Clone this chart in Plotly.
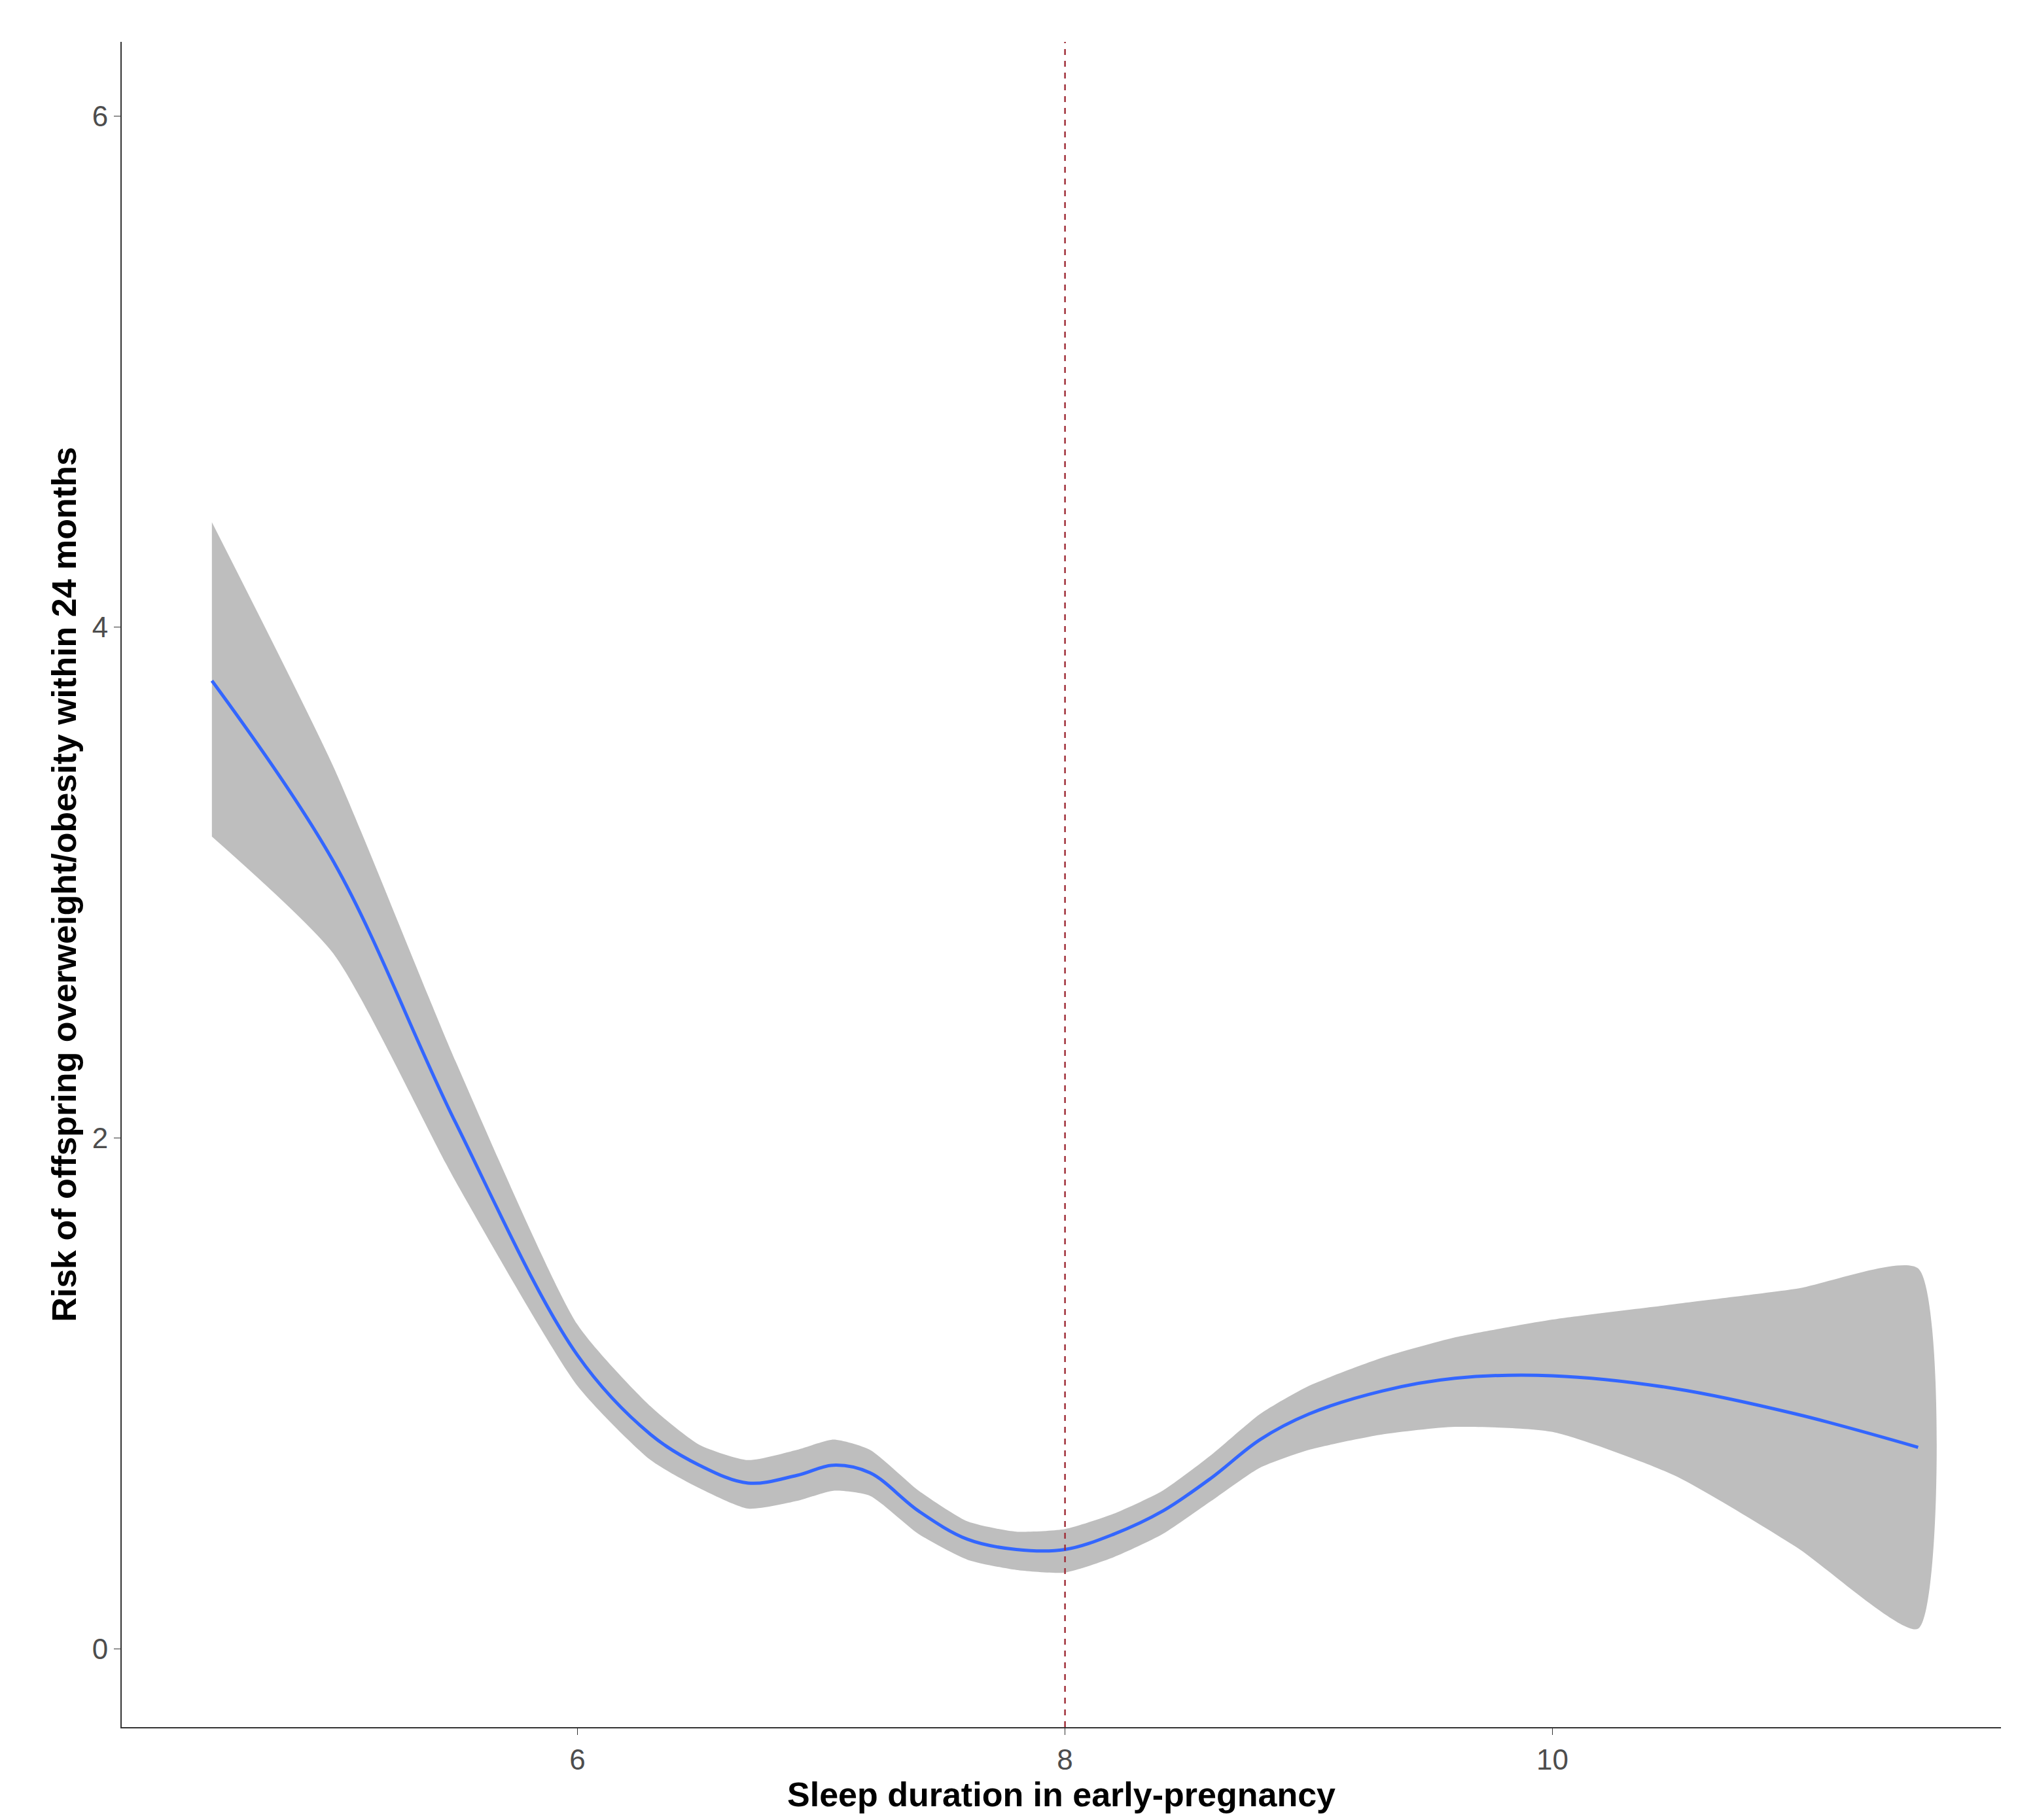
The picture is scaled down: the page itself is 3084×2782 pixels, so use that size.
import plotly.graph_objects as go

sleep_x = [4.5, 5.0, 5.5, 6.0, 6.3, 6.5, 6.7, 6.9, 7.05, 7.2, 7.4, 7.6, 7.8, 8.0, 8.2, 8.4, 8.6, 8.8, 9.0, 9.3, 9.6, 10.0, 10.5, 11.0, 11.5]
risk = [3.79, 3.08, 2.06, 1.15, 0.84, 0.72, 0.65, 0.68, 0.72, 0.69, 0.54, 0.43, 0.39, 0.39, 0.45, 0.54, 0.67, 0.82, 0.92, 1.01, 1.06, 1.07, 1.02, 0.92, 0.79]
upper = [4.41, 3.45, 2.30, 1.27, 0.95, 0.80, 0.74, 0.78, 0.82, 0.78, 0.62, 0.50, 0.46, 0.47, 0.53, 0.62, 0.76, 0.92, 1.03, 1.14, 1.22, 1.29, 1.35, 1.41, 1.49]
lower = [3.18, 2.72, 1.83, 1.03, 0.74, 0.63, 0.55, 0.58, 0.62, 0.60, 0.45, 0.35, 0.31, 0.30, 0.36, 0.45, 0.58, 0.71, 0.78, 0.84, 0.87, 0.85, 0.68, 0.40, 0.08]

fig = go.Figure()
fig.add_trace(go.Scatter(x=sleep_x + sleep_x[::-1], y=upper + lower[::-1], fill="toself",
                         fillcolor="#bebebe", line=dict(width=0, shape="spline", smoothing=0.6),
                         mode="lines", hoverinfo="skip"))
fig.add_trace(go.Scatter(x=sleep_x, y=risk, mode="lines", line=dict(color="#3366FF", width=5, shape="spline")))
fig.add_vline(x=8, line=dict(color="#a0303a", width=2.5, dash="dash"))

fig.update_layout(
    width=3084, height=2782, showlegend=False,
    paper_bgcolor="white", plot_bgcolor="white",
    margin=dict(l=178, r=34, t=56, b=150),
    font=dict(family="Liberation Sans, Arial", color="#4d4d4d", size=44),
)
fig.update_xaxes(range=[4.13, 11.84], tickvals=[6, 8, 10], showgrid=False, zeroline=False,
                 showline=True, linecolor="#333333", linewidth=2, ticks="outside", ticklen=10,
                 tickcolor="#333333",
                 title=dict(text="<b>Sleep duration in early-pregnancy</b>", font=dict(size=52, color="black"), standoff=4))
fig.update_yaxes(range=[-0.305, 6.29], tickvals=[0, 2, 4, 6], showgrid=False, zeroline=False,
                 showline=True, linecolor="#333333", linewidth=2, ticks="outside", ticklen=10,
                 tickcolor="#333333",
                 title=dict(text="<b>Risk of offspring overweight/obesity within 24 months</b>", font=dict(size=52, color="black"), standoff=8))
fig.write_html("out.html")
